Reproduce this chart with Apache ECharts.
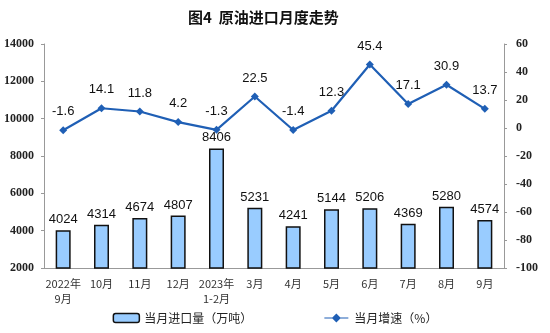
<!DOCTYPE html>
<html>
<head>
<meta charset="utf-8">
<script src="https://cdn.jsdelivr.net/npm/echarts@6/dist/echarts.min.js"></script>
<style>
  html, body { margin: 0; padding: 0; background: #fff; }
  #chart { width: 550px; height: 333px; }
</style>
</head>
<body>
<div id="chart"></div>
<script>
// Monthly crude oil imports: volume (10k tonnes) and year-on-year growth (%)
const categories = ['2022年\n9月', '10月', '11月', '12月', '2023年\n1-2月', '3月', '4月', '5月', '6月', '7月', '8月', '9月'];
const importVolume = [4024, 4314, 4674, 4807, 8406, 5231, 4241, 5144, 5206, 4369, 5280, 4574];
const growthRate = [-1.6, 14.1, 11.8, 4.2, -1.3, 22.5, -1.4, 12.3, 45.4, 17.1, 30.9, 13.7];

const chart = echarts.init(document.getElementById('chart'));
const serifTicks = { fontFamily: 'Liberation Serif', fontSize: 12, color: '#222', fontWeight: 'bold', formatter: v => String(v) };

chart.setOption({
  animation: false,
  title: {
    text: '图4  原油进口月度走势',
    left: 183,
    top: 5,
    textStyle: { fontFamily: 'Noto Sans CJK SC', fontSize: 15, fontWeight: 'bold', color: '#111' }
  },
  legend: {
    bottom: 4,
    itemGap: 72,
    textStyle: { fontFamily: 'Noto Sans CJK SC', fontSize: 12, color: '#222' },
    data: [
      { name: '当月进口量（万吨）', icon: 'roundRect', itemStyle: { color: '#99ccff', borderColor: '#111', borderWidth: 1.5 } },
      { name: '当月增速（%）', icon: 'path://M0,4 L8,4 L12,0 L16,4 L24,4 L24,5 L16,5 L12,9 L8,5 L0,5 Z', itemStyle: { color: '#1f5fb5' } }
    ],
    itemWidth: 26,
    itemHeight: 9
  },
  grid: { left: 44, right: 46, top: 44, bottom: 65 },
  xAxis: {
    type: 'category',
    data: categories,
    axisLine: { onZero: false, lineStyle: { color: '#999' } },
    axisTick: { inside: true, length: 3, lineStyle: { color: '#999' } },
    axisLabel: { interval: 0, fontFamily: 'Noto Sans CJK SC', fontSize: 11, color: '#333', margin: 8, lineHeight: 15 }
  },
  yAxis: [
    {
      type: 'value', min: 2000, max: 14000, interval: 2000,
      splitLine: { show: false },
      axisLine: { show: true, lineStyle: { color: '#999' } },
      axisTick: { show: true, length: 3, lineStyle: { color: '#999' } },
      axisLabel: Object.assign({ margin: 10 }, serifTicks)
    },
    {
      type: 'value', min: -100, max: 60, interval: 20,
      splitLine: { show: false },
      axisLine: { show: true, lineStyle: { color: '#999' } },
      axisTick: { show: true, length: 3, lineStyle: { color: '#999' } },
      axisLabel: Object.assign({ margin: 12 }, serifTicks)
    }
  ],
  series: [
    {
      name: '当月进口量（万吨）',
      type: 'bar',
      data: importVolume,
      barWidth: 15,
      itemStyle: { color: '#99ccff', borderColor: '#111', borderWidth: 1.5 },
      label: { show: true, position: 'top', distance: 4, fontFamily: 'Liberation Sans', fontSize: 13, color: '#111' }
    },
    {
      name: '当月增速（%）',
      type: 'line',
      yAxisIndex: 1,
      data: growthRate,
      symbol: 'diamond',
      symbolSize: 8,
      lineStyle: { color: '#1f5fb5', width: 2.2 },
      itemStyle: { color: '#1f5fb5' },
      label: { show: true, position: 'top', distance: 8, fontFamily: 'Liberation Sans', fontSize: 13, color: '#111' }
    }
  ]
});
</script>
</body>
</html>
